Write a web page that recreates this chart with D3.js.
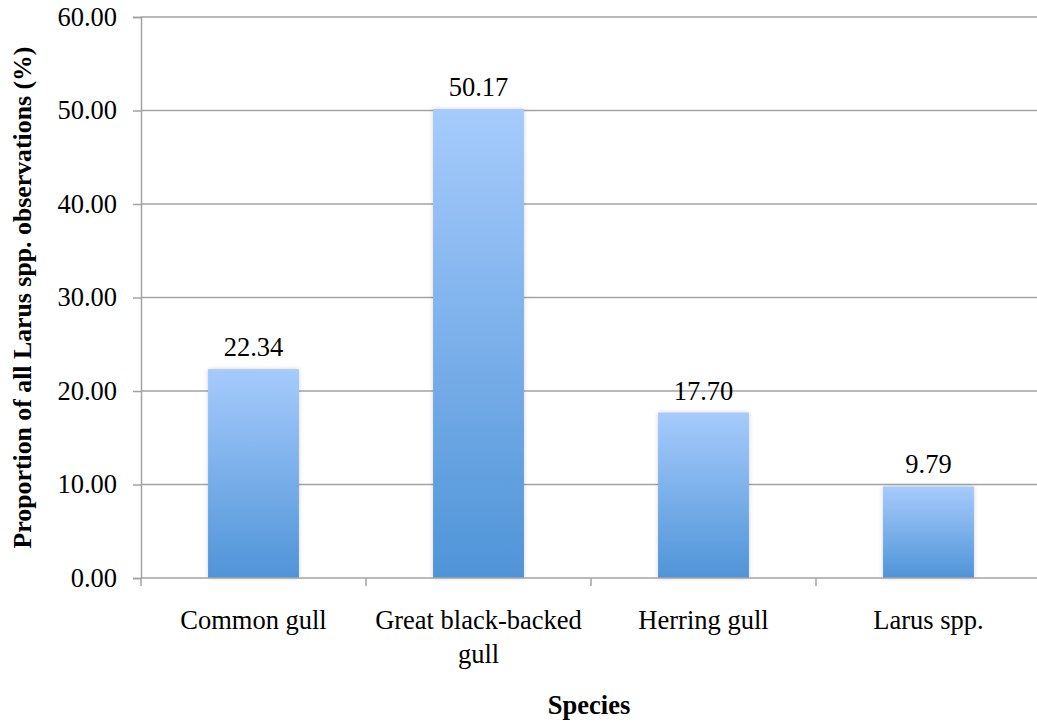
<!DOCTYPE html>
<html><head><meta charset="utf-8">
<script src="https://cdn.jsdelivr.net/npm/d3@7"></script>
<style>body{margin:0;background:#fff}svg{display:block}</style>
</head><body><svg id="c" width="1037" height="722"></svg>
<script>
const categories = ["Common gull","Great black-backed gull","Herring gull","Larus spp."];
const values = [22.34, 50.17, 17.70, 9.79];
const yTicks = [0,10,20,30,40,50,60];

(function(){
const FONT = "'Liberation Serif', 'Times New Roman', Times, serif";
const FS = 26.5;
const svg = d3.select("#c").attr("font-family",FONT);
const pL = 141, pR = 1041, pT = 17, pB = 578;
const x = d3.scaleBand().domain(categories).range([pL,pR]).paddingInner(0.596).paddingOuter(0.298);
const step = x.step();
const y = d3.scaleLinear().domain([0,60]).range([pB,pT]);

const defs = svg.append("defs");
const g = defs.append("linearGradient").attr("id","bg").attr("x1",0).attr("y1",0).attr("x2",0).attr("y2",1);
g.append("stop").attr("offset","0%").attr("stop-color","#a6cbfc");
g.append("stop").attr("offset","100%").attr("stop-color","#4f94d8");
const f = defs.append("filter").attr("id","sh").attr("x","-20%").attr("y","-20%").attr("width","140%").attr("height","140%");
f.append("feDropShadow").attr("dx",0).attr("dy",0).attr("stdDeviation",2).attr("flood-color","#000").attr("flood-opacity",0.18);

svg.append("g").selectAll("line").data(yTicks.filter(d=>d>0)).join("line")
  .attr("x1",pL).attr("x2",1037).attr("y1",d=>y(d)).attr("y2",d=>y(d))
  .attr("stroke","#a3a3a3").attr("stroke-width",1.5);

svg.append("g").selectAll("rect").data(values).join("rect")
  .attr("x",(d,i)=>x(categories[i])).attr("width",x.bandwidth())
  .attr("y",d=>y(d)).attr("height",d=>pB-y(d))
  .attr("fill","url(#bg)").attr("filter","url(#sh)");

const ya = svg.append("g").attr("transform",`translate(${pL},0)`)
  .call(d3.axisLeft(y).tickValues(yTicks).tickFormat(d3.format(".2f")).tickSize(8).tickPadding(16));
ya.attr("font-family",FONT).attr("font-size",FS);
ya.select(".domain").attr("stroke","#a3a3a3").attr("stroke-width",1.5);
ya.selectAll(".tick line").attr("stroke","#a3a3a3").attr("stroke-width",1.5);
ya.selectAll("text").attr("fill","#000");

svg.append("line").attr("x1",pL).attr("x2",1037).attr("y1",pB).attr("y2",pB).attr("stroke","#a3a3a3").attr("stroke-width",1.5);
const bounds = categories.map(c=>x(c)-(step-x.bandwidth())/2);
svg.append("g").selectAll("line").data(bounds).join("line")
  .attr("x1",d=>d).attr("x2",d=>d).attr("y1",pB).attr("y2",pB+8)
  .attr("stroke","#a3a3a3").attr("stroke-width",1.5);

const cl = svg.append("g").attr("font-size",FS);
categories.forEach(c=>{
  const cx = x(c)+x.bandwidth()/2;
  const t = cl.append("text").attr("x",cx).attr("y",629).attr("text-anchor","middle");
  const words = c.split(" ");
  let line = [], lines = [];
  const probe = cl.append("text");
  words.forEach(w=>{
    const test = line.concat(w).join(" ");
    probe.text(test);
    if (probe.node().getComputedTextLength() > 218 && line.length){ lines.push(line.join(" ")); line=[w]; }
    else line.push(w);
  });
  lines.push(line.join(" "));
  probe.remove();
  lines.forEach((l,i)=>t.append("tspan").attr("x",cx).attr("dy",i===0?0:34).text(l));
});

svg.append("g").attr("font-size",FS).selectAll("text").data(values).join("text")
  .attr("x",(d,i)=>x(categories[i])+x.bandwidth()/2).attr("y",d=>y(d)-13)
  .attr("text-anchor","middle").text(d=>d.toFixed(2));

svg.append("text").attr("transform",`translate(31,${(pT+pB)/2}) rotate(-90)`)
  .attr("text-anchor","middle").attr("font-size",25.8).attr("font-weight","bold")
  .text("Proportion of all Larus spp. observations (%)");
svg.append("text").attr("x",589).attr("y",714).attr("text-anchor","middle")
  .attr("font-size",FS).attr("font-weight","bold").text("Species");
})();
</script></body></html>
